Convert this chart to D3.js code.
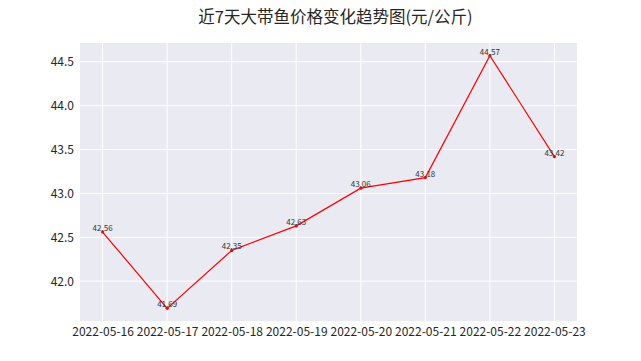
<!DOCTYPE html>
<html><head><meta charset="utf-8">
<script src="https://cdn.jsdelivr.net/npm/d3@7"></script>
<style>body{margin:0;background:#fff}svg{display:block}</style>
</head><body>
<script>
const categories = ["2022-05-16","2022-05-17","2022-05-18","2022-05-19","2022-05-20","2022-05-21","2022-05-22","2022-05-23"];
const prices = [42.56, 41.69, 42.35, 42.63, 43.06, 43.18, 44.57, 43.42];
const yTicks = [42.0, 42.5, 43.0, 43.5, 44.0, 44.5];
const title = "近7天大带鱼价格变化趋势图(元/公斤)";

const W = 641, H = 361;
const m = {l: 80, r: 64, t: 43, b: 40};
const font = "'Noto Sans CJK SC', 'Liberation Sans', sans-serif";
const svg = d3.select("body").append("svg").attr("width", W).attr("height", H);

const n = categories.length;
const x = d3.scaleLinear().domain([-0.35, n - 1 + 0.35]).range([m.l, W - m.r]);
const ymin = d3.min(prices), ymax = d3.max(prices), pad = (ymax - ymin) * 0.05;
const y = d3.scaleLinear().domain([ymin - pad, ymax + pad]).range([H - m.b, m.t]);

svg.append("rect").attr("x", m.l).attr("y", m.t).attr("width", W - m.r - m.l).attr("height", H - m.b - m.t).attr("fill", "#EAEAF2");

const g = svg.append("g");
g.selectAll(".vg").data(d3.range(n)).join("line")
  .attr("x1", d => x(d)).attr("x2", d => x(d)).attr("y1", m.t).attr("y2", H - m.b)
  .attr("stroke", "#fff").attr("stroke-width", 1);
g.selectAll(".hg").data(yTicks).join("line")
  .attr("x1", m.l).attr("x2", W - m.r).attr("y1", d => y(d)).attr("y2", d => y(d))
  .attr("stroke", "#fff").attr("stroke-width", 1);

const xAxis = svg.append("g").attr("transform", `translate(0,${H - m.b})`)
  .call(d3.axisBottom(x).tickValues(d3.range(n)).tickFormat(i => categories[i]).tickSize(0).tickPadding(6));
const yAxis = svg.append("g").attr("transform", `translate(${m.l},0)`)
  .call(d3.axisLeft(y).tickValues(yTicks).tickFormat(d3.format(".1f")).tickSize(0).tickPadding(6));
[xAxis, yAxis].forEach(a => {
  a.select(".domain").remove();
  a.selectAll("text").attr("font-family", font).attr("font-size", 12).attr("fill", "#262626");
});

const line = d3.line().x((d, i) => x(i)).y(d => y(d));
svg.append("path").datum(prices).attr("d", line).attr("fill", "none").attr("stroke", "#ff0000").attr("stroke-width", 1.2);
svg.selectAll(".pt").data(prices).join("circle")
  .attr("cx", (d, i) => x(i)).attr("cy", d => y(d)).attr("r", 1.6).attr("fill", "#ff0000");
svg.selectAll(".lbl").data(prices).join("text")
  .attr("x", (d, i) => x(i)).attr("y", d => y(d) - 1)
  .attr("text-anchor", "middle").attr("font-family", font).attr("font-size", 8).attr("fill", "#333")
  .text(d => d.toFixed(2));

svg.append("text").attr("x", (m.l + W - m.r) / 2 + 7).attr("y", 23).attr("text-anchor", "middle")
  .attr("font-family", font).attr("font-size", 16.5).attr("fill", "#262626").text(title);
</script>
</body></html>
